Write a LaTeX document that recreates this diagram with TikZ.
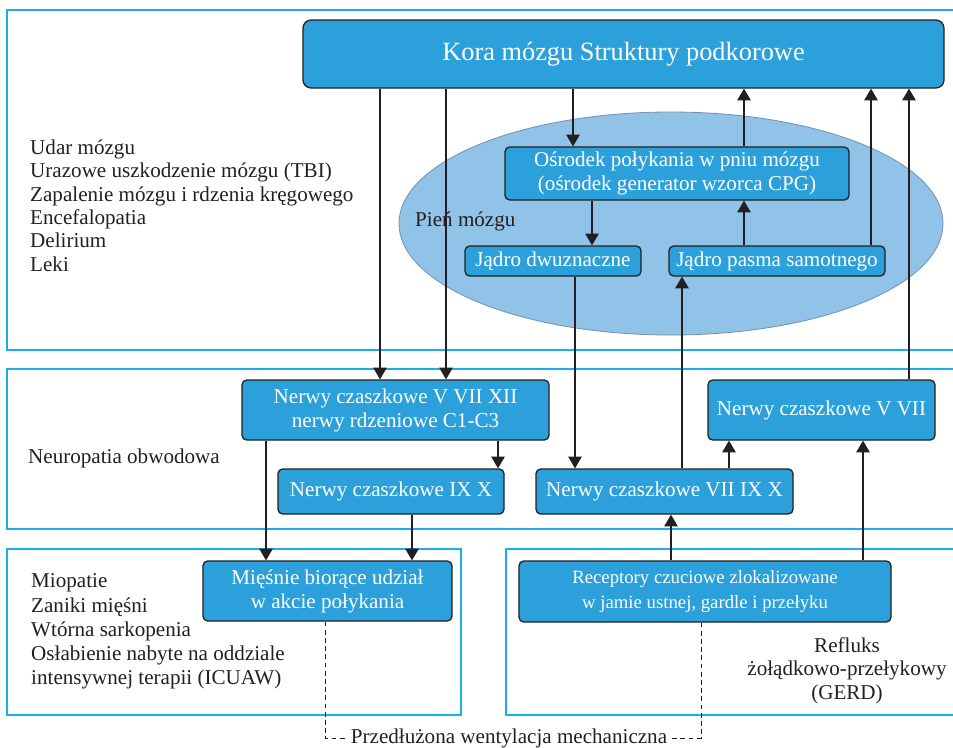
\documentclass[tikz,border=0pt]{standalone}
\usepackage{fontspec}
\setmainfont{Liberation Serif}
\usetikzlibrary{arrows.meta,shapes.geometric}
\definecolor{boxblue}{RGB}{44,160,218}
\definecolor{framecyan}{RGB}{28,174,236}
\definecolor{stemblue}{RGB}{145,195,232}
\definecolor{stemedge}{RGB}{115,145,175}
\definecolor{inkgray}{RGB}{35,31,32}
\begin{document}
\begin{tikzpicture}[x=0.03cm, y=-0.03cm,
	box/.style={draw=inkgray, line width=1.1pt, fill=boxblue, rounded corners=4pt, text=white, align=center, inner sep=0pt, font=\fontsize{18}{20.5}\selectfont},
	frame/.style={draw=framecyan, line width=1.8pt},
	arr/.style={draw=inkgray, line width=1pt, -{Triangle[width=11.5pt,length=10pt]}},
	ventline/.style={draw=inkgray, line width=0.8pt, dash pattern=on 4pt off 3pt},
	txt/.style={text=inkgray, align=left, inner sep=0pt, font=\fontsize{18}{20}\selectfont}]
	\useasboundingbox (0,0) rectangle (953,747);
	\clip (0,0) rectangle (953,747);
	
	\draw[frame] (7,10) rectangle (980,350);
	\draw[frame] (7,369) rectangle (980,529);
	\draw[frame] (7,549) rectangle (461,715);
	\draw[frame] (506,549) rectangle (980,715);
	
	\node (pien) at (671,223.5) [ellipse, draw=stemedge, line width=0.7pt, fill=stemblue, minimum width=16.32cm, minimum height=6.69cm]{};
	\node (pienlbl) at (415,221) [txt, anchor=west]{Pień mózgu};
	
	\node (kora) at (623.5,54) [box, rounded corners=7pt, minimum width=19.23cm, minimum height=2.04cm, font=\fontsize{22.5}{26}\selectfont]{Kora mózgu Struktury podkorowe};
	\node (osrodek) at (677,173.5) [box, minimum width=10.32cm, minimum height=1.59cm]{Ośrodek połykania w pniu mózgu\\(ośrodek generator wzorca CPG)};
	\node (dwuzn) at (553,261) [box, minimum width=5.28cm, minimum height=0.9cm]{Jądro dwuznaczne};
	\node (samotny) at (777,261) [box, minimum width=6.48cm, minimum height=0.9cm]{Jądro pasma samotnego};
	\node (n5712) at (395.5,410) [box, minimum width=9.21cm, minimum height=1.8cm]{Nerwy czaszkowe V VII XII\\nerwy rdzeniowe C1-C3};
	\node (n910) at (391,491.5) [box, minimum width=6.78cm, minimum height=1.35cm]{Nerwy czaszkowe IX X};
	\node (n7910) at (664.5,491.5) [box, minimum width=7.71cm, minimum height=1.35cm]{Nerwy czaszkowe VII IX X};
	\node (n57) at (821.5,410) [box, minimum width=6.81cm, minimum height=1.8cm]{Nerwy czaszkowe V VII};
	\node (miesnie) at (327.5,591) [box, minimum width=7.47cm, minimum height=1.8cm]{Mięśnie biorące udział\\w akcie połykania};
	\node (recept) at (705,591.5) [box, minimum width=11.16cm, minimum height=1.83cm, font=\fontsize{16}{20.5}\selectfont]{Receptory czuciowe zlokalizowane\\w jamie ustnej, gardle i przełyku};
	
	\node (mozg) at (30,205.5) [txt, anchor=west]{Udar mózgu\\Urazowe uszkodzenie mózgu (TBI)\\Zapalenie mózgu i rdzenia kręgowego\\Encefalopatia\\Delirium\\Leki};
	\node (neuro) at (28,458) [txt, anchor=west]{Neuropatia obwodowa};
	\node (miopatie) at (31,631.5) [txt, anchor=west, font=\fontsize{18}{20.6}\selectfont]{Miopatie\\Zaniki mięśni\\Wtórna sarkopenia\\Osłabienie nabyte na oddziale\\intensywnej terapii (ICUAW)};
	\node (gerd) at (847,670.5) [txt, align=center]{Refluks\\żołądkowo-przełykowy\\(GERD)};
	\node (vent) at (509,738) [txt, inner sep=3pt]{Przedłużona wentylacja mechaniczna};
	
	\draw[arr] (380,0 |- kora.south) -- (380,0 |- n5712.north);
	\draw[arr] (446,0 |- kora.south) -- (446,0 |- n5712.north);
	\draw[arr] (573,0 |- kora.south) -- (573,0 |- osrodek.north);
	\draw[arr] (744,0 |- osrodek.north) -- (744,0 |- kora.south);
	\draw[arr] (592,0 |- osrodek.south) -- (592,0 |- dwuzn.north);
	\draw[arr] (744,0 |- samotny.north) -- (744,0 |- osrodek.south);
	\draw[arr] (871,0 |- samotny.north) -- (871,0 |- kora.south);
	\draw[arr] (909,0 |- n57.north) -- (909,0 |- kora.south);
	\draw[arr] (575,0 |- dwuzn.south) -- (575,0 |- n7910.north);
	\draw[arr] (682,0 |- n7910.north) -- (682,0 |- samotny.south);
	\draw[arr] (266,0 |- n5712.south) -- (266,0 |- miesnie.north);
	\draw[arr] (498,0 |- n5712.south) -- (498,0 |- n910.north);
	\draw[arr] (412,0 |- n910.south) -- (412,0 |- miesnie.north);
	\draw[arr] (729,0 |- n7910.north) -- (729,0 |- n57.south);
	\draw[arr] (671,0 |- recept.north) -- (671,0 |- n7910.south);
	\draw[arr] (863,0 |- recept.north) -- (863,0 |- n57.south);
	
	\draw[ventline] (325,0 |- miesnie.south) |- (vent.west);
	\draw[ventline] (701,0 |- recept.south) |- (vent.east);
\end{tikzpicture}
\end{document}
